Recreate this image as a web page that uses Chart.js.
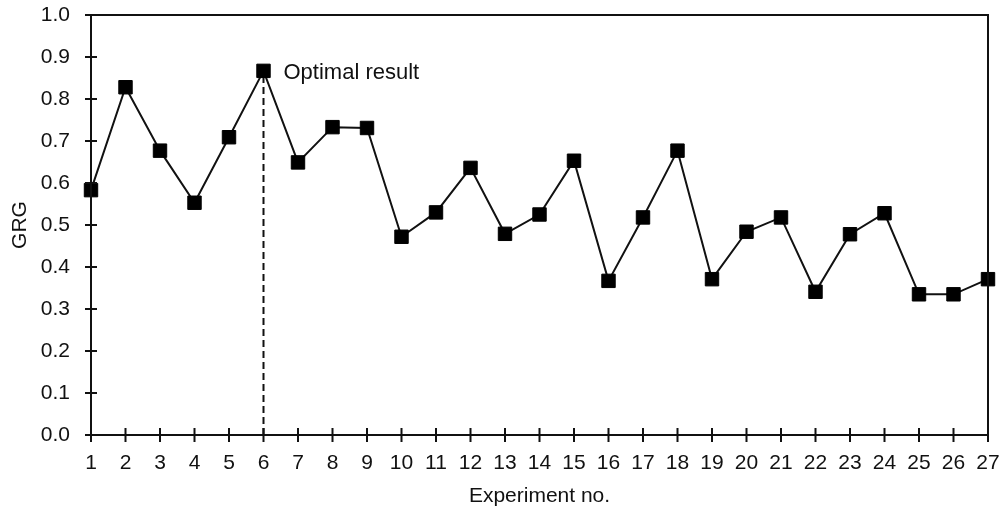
<!DOCTYPE html>
<html>
<head>
<meta charset="utf-8">
<script src="https://cdn.jsdelivr.net/npm/chart.js@4/dist/chart.umd.min.js"></script>
<style>
    html, body { margin: 0; padding: 0; background: #fff; }
    #wrap { width: 1001px; height: 513px; }
</style>
</head>
<body>
<div id="wrap"><canvas id="grgChart" width="1001" height="513"></canvas></div>
<script>
const experiments = [1, 2, 3, 4, 5, 6, 7, 8, 9, 10, 11, 12, 13, 14, 15, 16, 17, 18, 19, 20, 21, 22, 23, 24, 25, 26, 27];
const grgValues = [0.583, 0.828, 0.677, 0.553, 0.709, 0.867, 0.649, 0.733, 0.731, 0.472, 0.530, 0.636, 0.479, 0.525, 0.653,
    0.367, 0.518, 0.677, 0.371, 0.484, 0.518, 0.341, 0.478, 0.528, 0.335, 0.335, 0.371];
const optimalRun = 6;
const optimalLabel = "Optimal result";

const FONT = "'Liberation Sans', Arial, sans-serif";
const INK = "#111";

const optimalValue = grgValues[experiments.indexOf(optimalRun)];

// frame + ticks that cross the axes
const framePlugin = {
    id: "frame",
    afterDraw(chart) {
        const { ctx, chartArea: a, scales } = chart;
        ctx.save();
        ctx.strokeStyle = INK;
        ctx.lineWidth = 2;
        ctx.strokeRect(a.left, a.top, a.right - a.left, a.bottom - a.top);
        ctx.beginPath();
        scales.x.ticks.forEach((t) => {
            const px = scales.x.getPixelForValue(t.value);
            ctx.moveTo(px, a.bottom - 7);
            ctx.lineTo(px, a.bottom + 7);
        });
        scales.y.ticks.forEach((t) => {
            const py = scales.y.getPixelForValue(t.value);
            ctx.moveTo(a.left - 6, py);
            ctx.lineTo(a.left + 6, py);
        });
        ctx.stroke();

        // label next to the optimal point
        const px = scales.x.getPixelForValue(optimalRun);
        const py = scales.y.getPixelForValue(optimalValue);
        ctx.fillStyle = INK;
        ctx.font = "22px " + FONT;
        ctx.textBaseline = "middle";
        ctx.fillText(optimalLabel, px + 20, py + 2);
        ctx.restore();
    },
};

new Chart(document.getElementById("grgChart"), {
    type: "line",
    data: {
        datasets: [
            {
                label: "GRG",
                data: experiments.map((e, i) => ({ x: e, y: grgValues[i] })),
                borderColor: INK,
                borderWidth: 2,
                pointStyle: "rect",
                pointRadius: 9.5,
                pointBackgroundColor: "#000",
                pointBorderColor: "#000",
                pointBorderWidth: 1,
                tension: 0,
                clip: false,
            },
            {
                label: "optimal",
                data: [{ x: optimalRun, y: 0 }, { x: optimalRun, y: optimalValue }],
                borderColor: INK,
                borderWidth: 2,
                borderDash: [7, 4],
                pointRadius: 0,
                order: 1,
            },
        ],
    },
    options: {
        responsive: false,
        animation: false,
        layout: {
            padding: { top: 15, right: 13, left: 0, bottom: 0 },
        },
        plugins: {
            legend: { display: false },
            tooltip: { enabled: false },
        },
        scales: {
            x: {
                type: "linear",
                min: 1,
                max: 27,
                grid: { display: false, drawTicks: false },
                border: { display: false },
                ticks: {
                    stepSize: 1,
                    padding: 16,
                    color: INK,
                    maxRotation: 0,
                    autoSkip: false,
                    font: { family: FONT, size: 21 },
                },
                title: {
                    display: true,
                    text: "Experiment no.",
                    color: INK,
                    padding: { top: 0, bottom: 4 },
                    font: { family: FONT, size: 21 },
                },
                afterFit(scale) {
                    scale.height = 78;
                    scale.paddingLeft = 0;
                    scale.paddingRight = 0;
                },
            },
            y: {
                min: 0,
                max: 1,
                grid: { display: false, drawTicks: false },
                border: { display: false },
                ticks: {
                    stepSize: 0.1,
                    padding: 21,
                    color: INK,
                    font: { family: FONT, size: 21 },
                    callback: (v) => v.toFixed(1),
                },
                title: {
                    display: true,
                    text: "GRG",
                    color: INK,
                    padding: { top: 8, bottom: 0 },
                    font: { family: FONT, size: 21 },
                },
                afterFit(scale) {
                    scale.width = 91;
                    scale.paddingTop = 0;
                    scale.paddingBottom = 0;
                },
            },
        },
    },
    plugins: [framePlugin],
});
</script>
</body>
</html>
